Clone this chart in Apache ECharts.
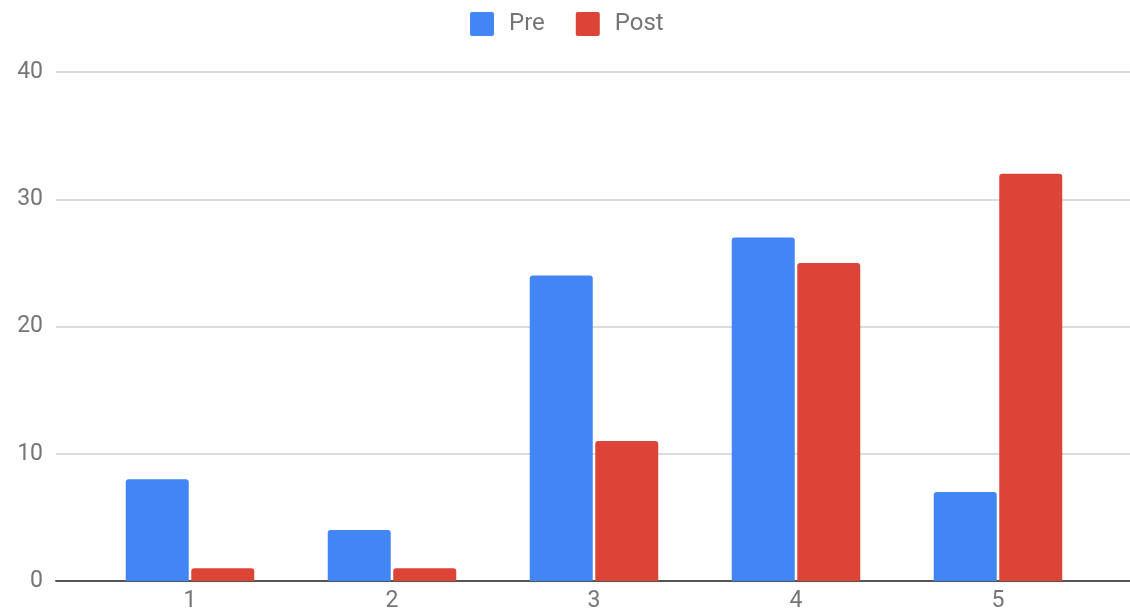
<!DOCTYPE html>
<html>
<head>
<meta charset="utf-8">
<script src="https://cdn.jsdelivr.net/npm/echarts@6/dist/echarts.min.js"></script>
<style>
  html, body { margin: 0; padding: 0; background: #fff; }
  #chart { width: 1130px; height: 616px; }
</style>
</head>
<body>
<div id="chart"></div>
<script>
// Response counts per rating, before and after
const categories = ['1', '2', '3', '4', '5'];
const preValues = [8, 4, 24, 27, 7];
const postValues = [1, 1, 11, 25, 32];
const seriesNames = ['Pre', 'Post'];
const yTicks = { min: 0, max: 40, interval: 10 };

const textColor = '#757575';
const fontFamily = 'Roboto, "Noto Sans", sans-serif';
// square legend swatch with softly rounded corners
const swatch = 'path://M2,0 H22 Q24,0 24,2 V22 Q24,24 22,24 H2 Q0,24 0,22 V2 Q0,0 2,0 Z';

const chart = echarts.init(document.getElementById('chart'), null, { renderer: 'canvas' });

chart.setOption({
  animation: false,
  textStyle: { fontFamily: fontFamily },
  legend: {
    top: 12,
    left: 470,
    padding: 0,
    itemWidth: 24,
    itemHeight: 24,
    itemGap: 31,
    icon: swatch,
    textStyle: { color: textColor, fontSize: 24, fontFamily: fontFamily, padding: [0, 0, 0, 10] },
    data: seriesNames
  },
  grid: [
    // full-width frame: gridlines and baseline
    { left: 56, right: 0, top: 72, bottom: 35, containLabel: false },
    // bar area
    { left: 89, right: 31, top: 72, bottom: 35, containLabel: false }
  ],
  xAxis: [
    {
      gridIndex: 0, type: 'value', min: 0, max: 1,
      axisLine: { show: true, onZero: true, lineStyle: { color: '#555', width: 2 } },
      axisTick: { show: false }, axisLabel: { show: false }, splitLine: { show: false }
    },
    {
      gridIndex: 1, type: 'category', data: categories,
      axisLine: { show: false }, axisTick: { show: false },
      axisLabel: { color: textColor, fontSize: 23, margin: 9, fontFamily: fontFamily }
    }
  ],
  yAxis: [
    {
      gridIndex: 0, type: 'value', min: yTicks.min, max: yTicks.max, interval: yTicks.interval,
      axisLine: { show: false }, axisTick: { show: false },
      axisLabel: { color: textColor, fontSize: 23, margin: 13, fontFamily: fontFamily },
      splitLine: { lineStyle: { color: '#dcdcdc', width: 2 } }
    },
    {
      gridIndex: 1, type: 'value', min: yTicks.min, max: yTicks.max, interval: yTicks.interval,
      show: false, splitLine: { show: false }
    }
  ],
  series: [
    {
      name: seriesNames[0], type: 'bar', xAxisIndex: 1, yAxisIndex: 1,
      data: preValues, barWidth: 63, barGap: '4%',
      itemStyle: { color: '#4285F4', borderRadius: [3, 3, 0, 0] }
    },
    {
      name: seriesNames[1], type: 'bar', xAxisIndex: 1, yAxisIndex: 1,
      data: postValues, barWidth: 63, barGap: '4%',
      itemStyle: { color: '#DB4437', borderRadius: [3, 3, 0, 0] }
    }
  ]
});
</script>
</body>
</html>
